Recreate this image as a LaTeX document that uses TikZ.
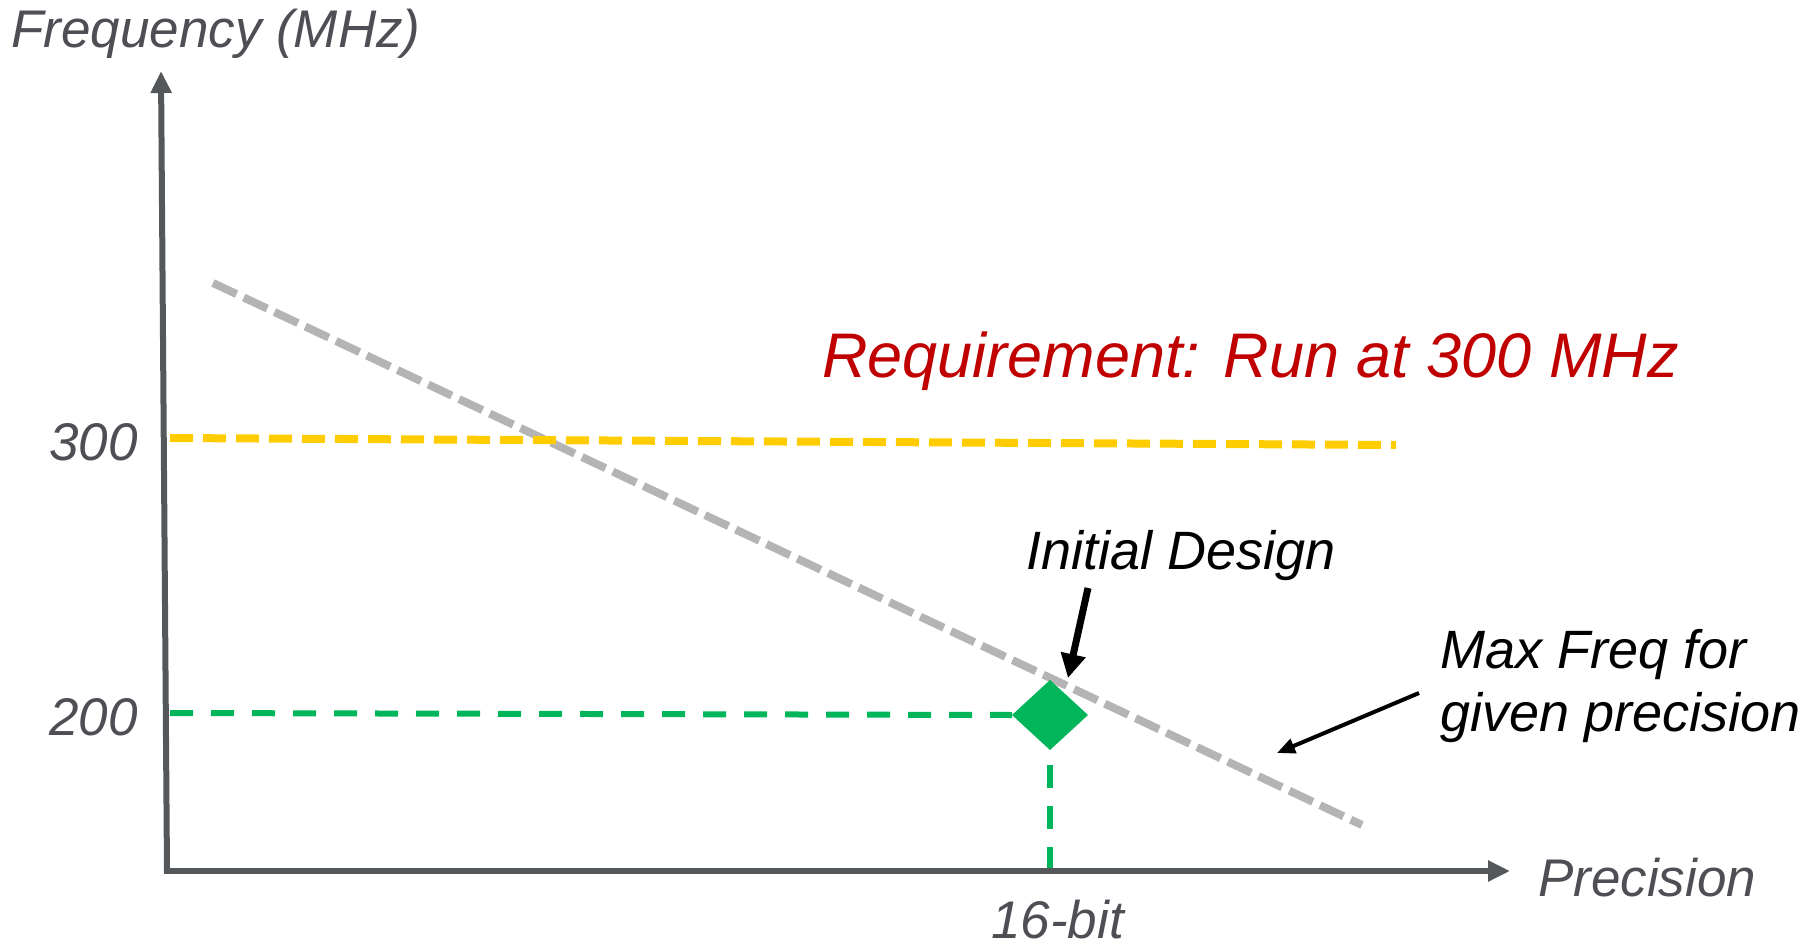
\documentclass[tikz,border=0pt]{standalone}
\usepackage{fontspec}
\setmainfont{Liberation Sans}
\usetikzlibrary{arrows.meta}
\definecolor{axisgray}{HTML}{55585A}
\definecolor{txtgray}{HTML}{4D4F54}
\definecolor{reqyellow}{HTML}{FFCC00}
\definecolor{designgreen}{HTML}{00B55A}
\definecolor{limgray}{HTML}{B4B4B4}
\definecolor{reqred}{HTML}{C00000}
\tikzset{
  axisline/.style={draw=axisgray, line width=6pt, -{Triangle[length=22pt,width=20pt]}},
  axlabel/.style={font=\fontsize{53}{60}\selectfont\itshape, text=txtgray, inner sep=0pt, anchor=base west},
  annot/.style={font=\fontsize{54}{64}\selectfont\itshape, text=black, inner sep=0pt, anchor=base west},
  pointerbig/.style={draw=black, line width=7pt, -{Triangle[length=24pt,width=24pt]}},
  pointersmall/.style={draw=black, line width=4pt, -{Triangle[length=18pt,width=15pt]}},
  yellowdash/.style={draw=reqyellow, line width=8pt, dash pattern=on 23pt off 10pt},
  greendash/.style={draw=designgreen, line width=6pt, dash pattern=on 23pt off 18pt},
  graydash/.style={draw=limgray, line width=8pt, dash pattern=on 26pt off 8pt},
}
\begin{document}
\begin{tikzpicture}[x=1pt,y=-1pt]
\useasboundingbox (0,0) rectangle (1802,947);
% coordinates
\coordinate (O) at (167,871);
\coordinate (ytop) at (161,71);
\coordinate (xend) at (1510,871);
\coordinate (y3s) at (170,438);
\coordinate (y3e) at (1396,445);
\coordinate (g2s) at (170,713);
\coordinate (gvb) at (1050,870);
\coordinate (ls) at (213,283);
\coordinate (le) at (1362,825);
% limit line
\draw[graydash] (ls) -- (le);
% requirement line
\draw[yellowdash] (y3s) -- (y3e);
% design point
\fill[designgreen] (1050,680) coordinate (dtop) -- (1088,715) coordinate (dright) -- (1050,750) coordinate (dbot) -- (1012,715) coordinate (dleft) -- cycle;
\draw[greendash] (g2s) -- (dleft);
\draw[greendash] (gvb) -- ([yshift=8pt]dbot);
% axes
\draw[axisline] (O) -- (ytop);
\draw[axisline] ([xshift=-3pt]O) -- (xend);
% labels
\node[axlabel] (freq) at (11,48) {Frequency (MHz)};
\node[axlabel] (l300) at (49,460) {300};
\node[axlabel] (l200) at (49,735) {200};
\node[axlabel] (prec) at (1538,896) {Precision};
\node[axlabel] (b16) at (991,938) {16-bit};
\node[font=\fontsize{63}{70}\selectfont\itshape, text=reqred, inner sep=0pt, anchor=base west] (req) at (822,377) {Requirement: Run at 300 MHz};
\node[annot] (init) at (1026,569) {Initial Design};
\node[annot] (maxf1) at (1440,668) {Max Freq for};
\node[annot] (maxf2) at (1440,731) {given precision};
% pointers
\coordinate (p1s) at (1088,588);
\coordinate (p1e) at (1068,678);
\coordinate (p2s) at (1419,693);
\coordinate (p2e) at (1277,753);
\draw[pointerbig] (p1s) -- (p1e);
\draw[pointersmall] (p2s) -- (p2e);
\end{tikzpicture}
\end{document}
